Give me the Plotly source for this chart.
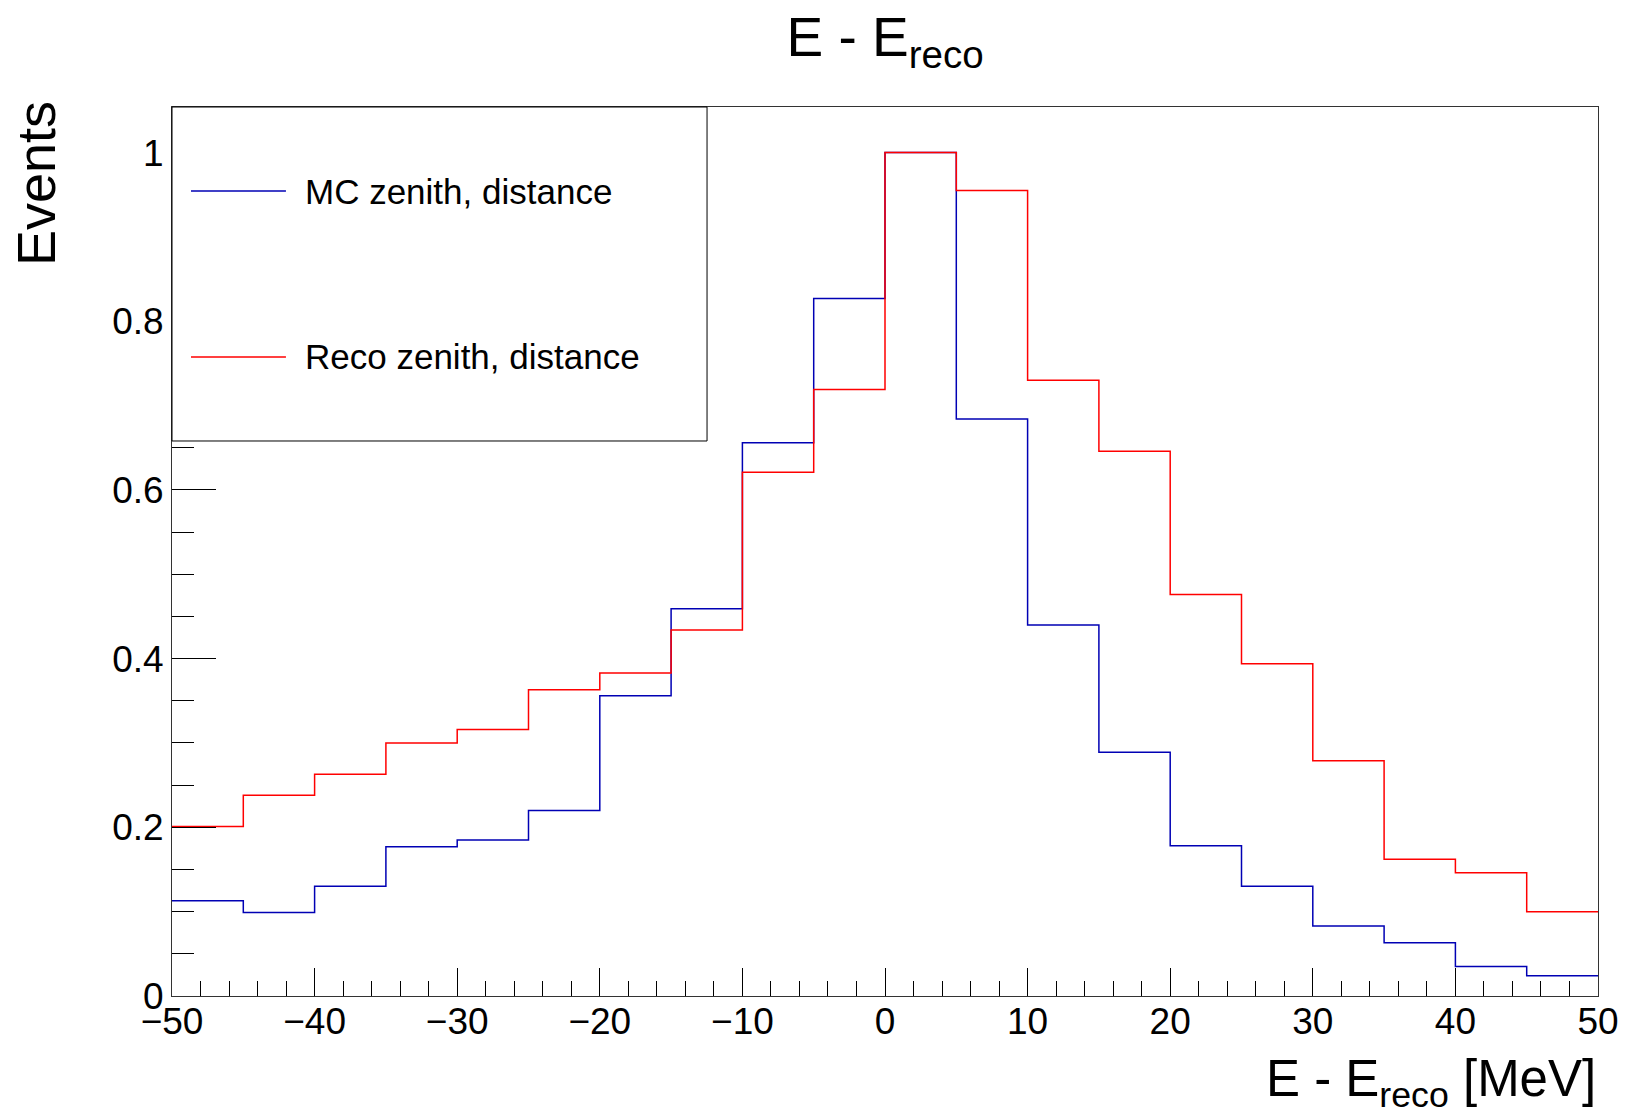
import plotly.graph_objects as go

# bin edges of the histogram (MeV)
bin_edges = [-50, -45, -40, -35, -30, -25, -20, -15, -10, -5, 0,
             5, 10, 15, 20, 25, 30, 35, 40, 45, 50]

# normalised bin contents
mc_zenith = [0.113, 0.099, 0.130, 0.177, 0.185, 0.220, 0.356, 0.459, 0.656, 0.827,
             1.000, 0.684, 0.440, 0.289, 0.178, 0.130, 0.083, 0.063, 0.035, 0.024]
reco_zenith = [0.201, 0.238, 0.263, 0.300, 0.316, 0.363, 0.383, 0.434, 0.621, 0.719,
               1.000, 0.955, 0.730, 0.646, 0.476, 0.394, 0.279, 0.162, 0.146, 0.100]

series_names = ["MC zenith, distance", "Reco zenith, distance"]
series_colors = ["#0000b4", "#ff0000"]

FONT = "Liberation Sans, Arial, sans-serif"

fig = go.Figure()

for name, vals, col in zip(series_names, [mc_zenith, reco_zenith], series_colors):
    # step histogram: repeat last content so the final bin reaches the last edge
    fig.add_trace(go.Scatter(
        x=bin_edges,
        y=vals + [vals[-1]],
        mode="lines",
        line=dict(shape="hv", color=col, width=1.5),
        name=name,
        showlegend=False,
    ))

fig.update_layout(
    width=1626, height=1107,
    paper_bgcolor="white", plot_bgcolor="white",
    margin=dict(l=172, r=28, t=107, b=111),
    font=dict(family=FONT, color="black"),
    title=dict(text="E - E<sub>reco</sub>", x=0.5, xref="paper", xanchor="center",
               y=0.984, yanchor="top", font=dict(size=55, family=FONT)),
)

fig.update_xaxes(
    range=[-50, 50], showgrid=False, zeroline=False, automargin=False,
    showline=True, mirror=True, linecolor="#333333", linewidth=1,
    ticks="inside", ticklen=28, tickcolor="black", tickwidth=1,
    dtick=10, tick0=0, tickfont=dict(size=37, family=FONT),
    ticklabelstandoff=-7, ticklabeloverflow="allow",
    minor=dict(dtick=2, ticks="inside", ticklen=15, tickcolor="black", tickwidth=1),
)
fig.update_yaxes(
    range=[0, 1.054], showgrid=False, zeroline=False, automargin=False,
    showline=True, mirror=True, linecolor="#333333", linewidth=1,
    ticks="inside", ticklen=44, tickcolor="black", tickwidth=1,
    dtick=0.2, tick0=0, tickfont=dict(size=37, family=FONT),
    minor=dict(dtick=0.05, ticks="inside", ticklen=22, tickcolor="black", tickwidth=1),
)

# axis titles (ROOT style: right / top aligned)
fig.add_annotation(text="E - E<sub>reco</sub> [MeV]", xref="paper", yref="paper",
                   x=1.0, y=-0.136, xanchor="right", yanchor="bottom",
                   showarrow=False, font=dict(size=51, family=FONT))
fig.add_annotation(text="Events", xref="paper", yref="paper", textangle=-90,
                   x=-0.095, y=1.009, xanchor="center", yanchor="top",
                   showarrow=False, font=dict(size=54, family=FONT))

# legend box drawn by hand to match the ROOT TLegend
fig.add_shape(type="rect", xref="paper", yref="paper", x0=0, x1=0.3752, y0=0.6243, y1=1.0,
              line=dict(color="black", width=1), fillcolor="white", layer="above")
legend_y = [0.9055, 0.7188]
for name, col, ly in zip(series_names, series_colors, legend_y):
    fig.add_shape(type="line", xref="paper", yref="paper", x0=0.0133, x1=0.0799, y0=ly, y1=ly,
                  line=dict(color=col, width=1.5), layer="above")
    fig.add_annotation(text=name, xref="paper", yref="paper", x=0.092, y=ly,
                       xanchor="left", yanchor="middle", showarrow=False,
                       font=dict(size=35, family=FONT))

# no body margin and no scrollbars, so the figure fills the window exactly
fig.write_html(
    "out.html",
    config={"displayModeBar": False},
    post_script="document.body.style.margin = '0'; document.body.style.overflow = 'hidden';",
)
